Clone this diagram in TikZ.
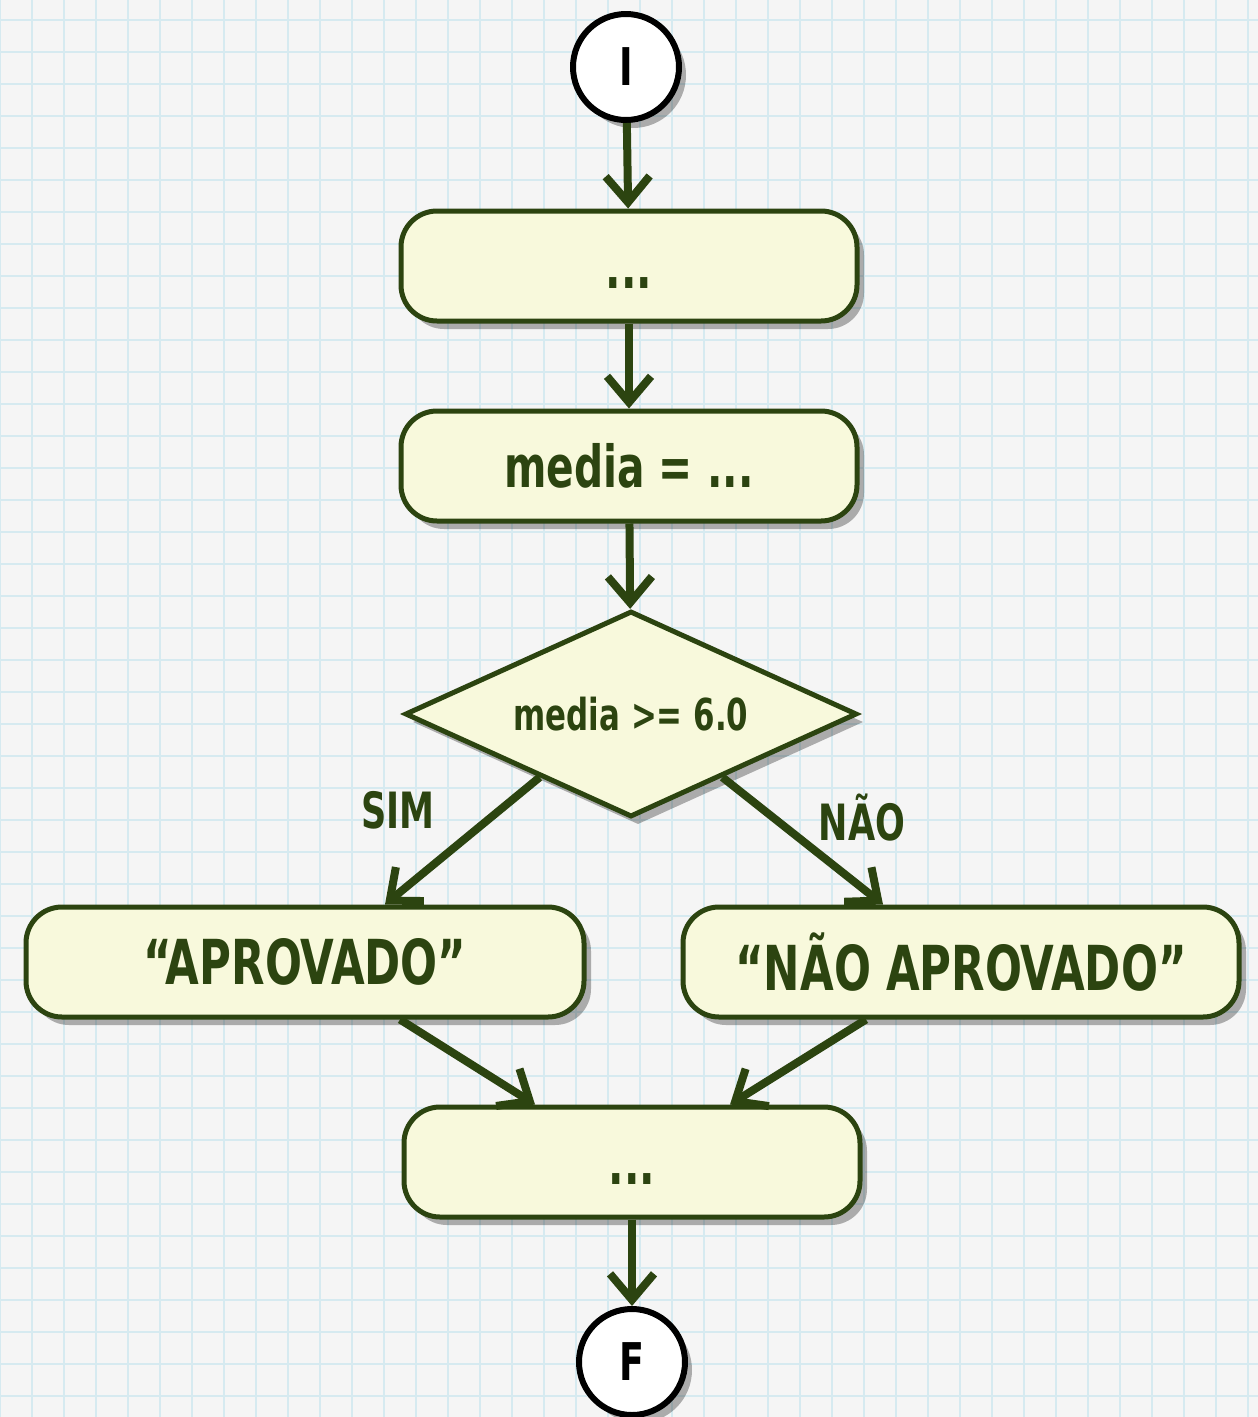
\documentclass[tikz,border=0pt]{standalone}
\usepackage{fontspec}
\usepackage{tikz}
\usetikzlibrary{arrows.meta,shapes.geometric,shadows,calc}
\newfontfamily\handfont[FakeStretch=0.78]{DejaVu Sans Condensed}
\definecolor{folha}{HTML}{F5F5F5}
\definecolor{grade}{HTML}{D6EAF0}
\definecolor{verde}{HTML}{2C4410}
\definecolor{creme}{HTML}{F8F9DC}
\tikzset{
  sombra/.style={drop shadow={shadow xshift=7pt,shadow yshift=-8pt,opacity=.3,fill=black}},
  caixa/.style={draw=verde,line width=5pt,fill=creme,rounded corners=36pt,
    minimum width=456pt,minimum height=110pt,text=verde,
    font=\handfont\bfseries\fontsize{58}{58}\selectfont,sombra},
  decisao/.style={draw=verde,line width=5pt,fill=creme,diamond,aspect=2.2,inner sep=0pt,
    minimum width=452pt,minimum height=206pt,text=verde,
    font=\handfont\bfseries\fontsize{44}{44}\selectfont,sombra},
  terminal/.style={circle,draw=black,line width=6pt,fill=white,minimum size=106pt,
    inner sep=0pt,font=\handfont\bfseries\fontsize{52}{52}\selectfont,sombra},
  rotulo/.style={text=verde,font=\handfont\bfseries\fontsize{50}{50}\selectfont},
  seta/.style={draw=verde,line width=8pt,
    -{Straight Barb[length=26pt,width=44pt,line width=8pt]}},
}
\newcommand{\reticencias}{\raisebox{-22pt}[0pt][0pt]{...}}
\begin{document}
\begin{tikzpicture}[x=1pt,y=-1pt]
  \useasboundingbox (0,0) rectangle (1258,1417);
  % papel quadriculado
  \fill[folha] (0,0) rectangle (1258,1417);
  \foreach \x in {0,32,...,1258} \draw[grade,line width=2pt] (\x,0) -- (\x,1417);
  \foreach \y in {20,52,...,1417} \draw[grade,line width=2pt] (0,\y) -- (1258,\y);

  \node[terminal] (ini) at (626,67) {I};
  \node[caixa] (p1) at (629,266) {\reticencias};
  \node[caixa] (p2) at (629,466) {media = ...};
  \node[decisao] (se) at (631,714) {media >= 6.0};
  \node[caixa,minimum width=558pt,font=\handfont\bfseries\fontsize{62}{62}\selectfont] (sim) at (305,962) {“APROVADO”};
  \node[caixa,minimum width=556pt,font=\handfont\bfseries\fontsize{62}{62}\selectfont] (nao) at (961,962) {“NÃO APROVADO”};
  \node[caixa] (p3) at (632,1162) {\reticencias};
  \node[terminal] (fim) at (632,1362) {F};

  \draw[seta] (ini) -- (p1);
  \draw[seta] (p1) -- (p2);
  \draw[seta] (p2) -- (se);
  \draw[seta] ($(se.west)!0.6!(se.south)$) -- ([xshift=80pt]sim.north);
  \draw[seta] ($(se.east)!0.6!(se.south)$) -- ([xshift=-78pt]nao.north);
  \draw[seta] ([xshift=95pt]sim.south) -- ([xshift=-97pt]p3.north);
  \draw[seta] ([xshift=-95pt]nao.south) -- ([xshift=98pt]p3.north);
  \draw[seta] (p3) -- (fim);

  \node[rotulo] (lsim) at (398,810) {SIM};
  \node[rotulo] (lnao) at (862,818) {NÃO};
\end{tikzpicture}
\end{document}
